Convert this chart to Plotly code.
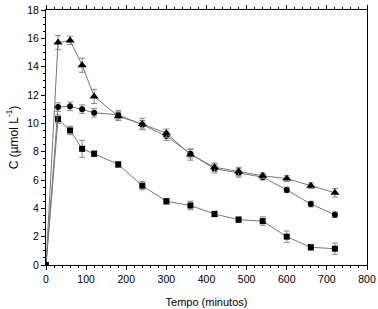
import plotly.graph_objects as go

tempo = [0, 30, 60, 90, 120, 180, 240, 300, 360, 420, 480, 540, 600, 660, 720]
triangulo = [0, 15.7, 15.85, 14.1, 11.9, 10.5, 9.95, 9.3, 7.8, 6.9, 6.6, 6.3, 6.1, 5.6, 5.1]
triangulo_err = [0, 0.5, 0.3, 0.5, 0.5, 0.3, 0.4, 0.3, 0.4, 0.3, 0.3, 0.2, 0.2, 0.2, 0.3]
circulo = [0, 11.15, 11.2, 11.0, 10.75, 10.6, 9.9, 9.1, 7.85, 6.8, 6.5, 6.2, 5.3, 4.3, 3.55]
circulo_err = [0, 0.3, 0.3, 0.3, 0.3, 0.3, 0.3, 0.3, 0.3, 0.3, 0.3, 0.2, 0.2, 0.2, 0.2]
quadrado = [0, 10.3, 9.5, 8.2, 7.85, 7.1, 5.6, 4.5, 4.2, 3.6, 3.2, 3.1, 2.0, 1.25, 1.15]
quadrado_err = [0, 0.3, 0.3, 0.6, 0.2, 0.2, 0.3, 0.2, 0.3, 0.2, 0.2, 0.3, 0.4, 0.2, 0.4]

fig = go.Figure()
for y, err, sym, size in [
    (quadrado, quadrado_err, "square", 6),
    (circulo, circulo_err, "circle", 6),
    (triangulo, triangulo_err, "triangle-up", 8),
]:
    fig.add_trace(go.Scatter(
        x=tempo, y=y, mode="lines+markers",
        line=dict(color="#777777", width=1),
        marker=dict(symbol=sym, size=size, color="black"),
        error_y=dict(type="data", array=err, visible=True, color="#888888",
                     thickness=1, width=3),
        showlegend=False,
    ))

font = "Liberation Sans, Arial"
axis_common = dict(
    showgrid=False, zeroline=False, showline=True, linecolor="black", linewidth=1,
    ticks="outside", ticklen=4, tickcolor="black", automargin=False,
    tickfont=dict(family=font, size=10.5, color="black"),
    minor=dict(ticks="outside", ticklen=2, tickcolor="black"),
)
fig.update_xaxes(range=[0, 800], dtick=100, mirror="ticks",
                 title=dict(text="Tempo (minutos)", font=dict(family=font, size=11, color="black"), standoff=14),
                 **axis_common)
fig.update_yaxes(range=[0, 18], dtick=2, mirror=True,
                 title=dict(text="C (µmol L<sup>-1</sup>)", font=dict(family=font, size=12, color="black"), standoff=6),
                 **axis_common)
fig.update_layout(
    width=378, height=309,
    margin=dict(l=46, r=11, t=10, b=44),
    plot_bgcolor="white", paper_bgcolor="white",
)
fig.write_html("out.html", config={"displayModeBar": False},
               post_script="document.body.style.margin='0';document.body.style.overflow='hidden';")
